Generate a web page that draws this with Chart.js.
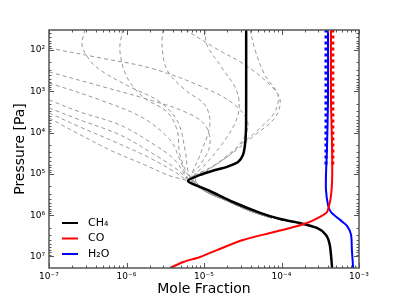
<!DOCTYPE html>
<html>
<head>
<meta charset="utf-8">
<script src="https://cdn.jsdelivr.net/npm/chart.js@4.4.1/dist/chart.umd.min.js"></script>
<style>
  html, body { margin: 0; padding: 0; background: #fff; }
  #wrap { width: 399px; height: 299px; }
</style>
</head>
<body>
<div id="wrap"><canvas id="chart" width="399" height="299"></canvas></div>
<script>
// profiles, pairs of [mole fraction, pressure in Pa]
const ch4 = [[3.5e-5, 32], [3.5e-5, 1600], [3.48e-5, 8600], [3.38e-5, 2.0e4], [3.18e-5, 3.5e4],
  [2.75e-5, 5.2e4], [1.98e-5, 6.8e4], [1.27e-5, 8.5e4], [8.9e-6, 1.06e5], [6.2e-6, 1.49e5],
  [8.9e-6, 2.07e5], [1.19e-5, 2.6e5], [2.37e-5, 4.8e5], [5.3e-5, 8.8e5], [9.6e-5, 1.24e6],
  [1.73e-4, 1.55e6], [2.87e-4, 2.04e6], [3.75e-4, 3.0e6], [4.2e-4, 5.3e6], [4.5e-4, 1.9e7]];
const co = [[4.35e-4, 32], [4.35e-4, 1600], [4.5e-4, 2.6e4], [4.5e-4, 1.4e5], [4.35e-4, 3.4e5],
  [4.1e-4, 6.0e5], [3.86e-4, 8.4e5], [3.14e-4, 1.1e6], [2.13e-4, 1.55e6], [1.29e-4, 2.04e6],
  [7.1e-5, 2.7e6], [3.18e-5, 4.0e6], [1.47e-5, 7.0e6], [8.9e-6, 1.03e7], [5.4e-6, 1.36e7], [3.64e-6, 1.9e7]];
const h2o = [[3.98e-4, 32], [3.98e-4, 1600], [3.86e-4, 2.6e4], [3.75e-4, 1.06e5], [3.75e-4, 2.45e5],
  [3.98e-4, 5.7e5], [4.35e-4, 8.4e5], [5.7e-4, 1.3e6], [7.0e-4, 1.82e6], [7.9e-4, 3.0e6],
  [8.1e-4, 7.0e6], [8.4e-4, 1.9e7]];
const h2oDashed = [[3.75e-4, 32], [3.75e-4, 6.1e4]];
const coDashed = [[4.6e-4, 32], [4.6e-4, 6.1e4]];

// grey dashed CH4 profiles, all joining the same lower branch
const greyTail = [[1.03e-5, 2.59e5], [1.87e-5, 4.28e5], [3.93e-5, 7.9e5], [7.5e-5, 1.17e6]];
const greyRuns = [
  [[1e-7, 90], [4.55e-7, 156], [2.0e-6, 273], [8.9e-6, 745], [2.51e-5, 2150], [3.7e-5, 6550], [2.51e-5, 2.64e4], [1.19e-5, 7.2e4], [7.0e-6, 1.26e5]],
  [[1e-7, 341], [4.55e-7, 745], [2.0e-6, 1625], [5.7e-6, 3170], [1.03e-5, 6550], [1.19e-5, 2.0e4], [8.9e-6, 6.1e4], [6.6e-6, 1.26e5]],
  [[1e-7, 630], [4.55e-7, 1625], [1.63e-6, 4430], [3.64e-6, 1.51e4], [4.9e-6, 4.6e4], [6.2e-6, 1.26e5]],
  [[1e-7, 1625], [2.5e-7, 3170], [8.2e-7, 6550], [2.0e-6, 1.69e4], [4.2e-6, 4.6e4], [6.2e-6, 1.33e5]],
  [[1e-7, 2540], [2.5e-7, 4950], [8.2e-7, 1.14e4], [2.33e-6, 3.48e4], [4.6e-6, 8.05e4], [6.2e-6, 1.41e5]],
  [[1e-7, 3350], [2.5e-7, 7310], [7.1e-7, 1.69e4], [2.0e-6, 4.12e4], [4.2e-6, 9.0e4], [6.2e-6, 1.49e5]],
  [[1e-7, 4430], [2.16e-7, 9670], [6.1e-7, 2.64e4], [1.73e-6, 6.1e4], [3.64e-6, 1.12e5], [6.2e-6, 1.49e5]],
  [[2.92e-7, 32], [2.67e-7, 76], [3.19e-7, 156], [4.55e-7, 305], [1.11e-6, 787], [2.7e-6, 1816], [4.6e-6, 5540], [5.7e-6, 2.64e4], [6.6e-6, 1.19e5]],
  [[9.0e-7, 32], [8.2e-7, 100], [1.01e-6, 451], [1.63e-6, 1375], [3.33e-6, 3170], [4.49e-6, 8650], [4.9e-6, 3.48e4], [6.6e-6, 1.26e5]],
  [[2.96e-6, 32], [2.87e-6, 76], [3.33e-6, 305], [5.7e-6, 930], [1.03e-5, 2150], [1.19e-5, 6550], [8.9e-6, 3.48e4], [7.0e-6, 1.26e5]],
  [[1.03e-5, 32], [1.09e-5, 76], [1.71e-5, 273], [2.67e-5, 1040], [2.75e-5, 3750], [1.87e-5, 1.51e4], [1.03e-5, 6.1e4], [7.2e-6, 1.26e5]],
  [[5.7e-6, 32], [1.39e-5, 90], [3.38e-5, 231], [7.1e-5, 703], [9.6e-5, 1625], [8.2e-5, 4430], [4.55e-5, 1.14e4], [2.16e-5, 3.48e4], [1.03e-5, 9.0e4], [7.7e-6, 1.26e5]],
  [[3.93e-5, 32], [4.55e-5, 100], [6.1e-5, 403], [9.0e-5, 1230], [8.2e-5, 3170], [5.3e-5, 7740], [2.92e-5, 2.0e4], [1.39e-5, 6.1e4], [7.7e-6, 1.26e5]]
];

const seriesNames = ['CH₄', 'CO', 'H₂O'];
const seriesColors = ['#000000', '#ff0000', '#0000ff'];
const xTickLabels = { '-7': '10⁻⁷', '-6': '10⁻⁶', '-5': '10⁻⁵', '-4': '10⁻⁴', '-3': '10⁻³' };
const yTickLabels = { '2': '10²', '3': '10³', '4': '10⁴', '5': '10⁵', '6': '10⁶', '7': '10⁷' };

Chart.defaults.font.family = '"DejaVu Sans", sans-serif';
Chart.defaults.color = '#000';

const pts = (arr) => arr.map(p => ({ x: p[0], y: p[1] }));

const datasets = [
  { data: pts(co), borderColor: seriesColors[1], borderWidth: 2, order: 1, tension: 0.25 },
  { data: pts(h2o), borderColor: seriesColors[2], borderWidth: 2, order: 2, tension: 0.25 },
  { data: pts(ch4), borderColor: seriesColors[0], borderWidth: 2.5, order: 3, tension: 0.25 },
  { data: pts(coDashed), borderColor: '#ff0000', borderWidth: 3, borderDash: [3, 3], order: 4 },
  { data: pts(h2oDashed), borderColor: '#0000ff', borderWidth: 3, borderDash: [3, 3], order: 5 }
];
greyRuns.forEach((run, i) => {
  datasets.push({
    data: pts(run.concat(greyTail)),
    borderColor: '#999999', borderWidth: 1, borderDash: [4, 3],
    order: 10 + i, tension: 0.35
  });
});
datasets.forEach(d => { d.showLine = true; d.pointRadius = 0; d.fill = false; });

function decadeLabel(map, v) {
  const l = Math.log10(v);
  const e = Math.round(l);
  return Math.abs(l - e) < 1e-6 ? (map[String(e)] || '') : '';
}

// inward tick marks, frame and legend, matplotlib style
const frame = {
  id: 'frame',
  afterDatasetsDraw(chart) {
    const { ctx, chartArea: a, scales: { x, y } } = chart;
    ctx.save();
    ctx.strokeStyle = '#555';
    ctx.lineWidth = 1;
    const marks = (scale, cb) => {
      const lo = Math.floor(Math.log10(scale.min)), hi = Math.ceil(Math.log10(scale.max));
      for (let d = lo; d <= hi; d++) {
        for (let m = 1; m < 10; m++) {
          const v = m * Math.pow(10, d);
          if (v < scale.min || v > scale.max) continue;
          cb(Math.round(scale.getPixelForValue(v)) + 0.5, m === 1 ? 5 : 2.5);
        }
      }
    };
    ctx.beginPath();
    marks(x, (p, len) => {
      ctx.moveTo(p, a.bottom); ctx.lineTo(p, a.bottom - len);
      ctx.moveTo(p, a.top); ctx.lineTo(p, a.top + len);
    });
    marks(y, (p, len) => {
      ctx.moveTo(a.left, p); ctx.lineTo(a.left + len, p);
      ctx.moveTo(a.right, p); ctx.lineTo(a.right - len, p);
    });
    ctx.stroke();
    ctx.lineWidth = 1.5;
    ctx.strokeRect(a.left, a.top, a.right - a.left, a.bottom - a.top);

    ctx.font = '11px "DejaVu Sans", sans-serif';
    ctx.textBaseline = 'middle';
    ctx.fillStyle = '#000';
    seriesNames.forEach((name, i) => {
      const ly = a.top + 193 + i * 15.5;
      ctx.strokeStyle = seriesColors[i];
      ctx.lineWidth = 2;
      ctx.beginPath();
      ctx.moveTo(a.left + 13, ly); ctx.lineTo(a.left + 29, ly);
      ctx.stroke();
      ctx.fillText(name, a.left + 39, ly);
    });
    ctx.restore();
  }
};

new Chart(document.getElementById('chart'), {
  type: 'scatter',
  data: { datasets },
  options: {
    responsive: false,
    animation: false,
    layout: { padding: { top: 30, right: 40, left: 0, bottom: 0 } },
    plugins: { legend: { display: false }, tooltip: { enabled: false } },
    scales: {
      x: {
        type: 'logarithmic', min: 1e-7, max: 1e-3,
        grid: { display: false, drawTicks: false },
        border: { display: false },
        ticks: { autoSkip: false, maxRotation: 0, padding: 3, font: { size: 9 },
          callback: (v) => decadeLabel(xTickLabels, v) },
        title: { display: true, text: 'Mole Fraction', font: { size: 14 }, padding: { top: 0, bottom: 1 } },
        afterFit: (s) => { s.height = 31; s.paddingLeft = 0; s.paddingRight = 0; }
      },
      y: {
        type: 'logarithmic', reverse: true, min: 33, max: 1.9e7,
        grid: { display: false, drawTicks: false },
        border: { display: false },
        ticks: { autoSkip: false, padding: 4, font: { size: 9 },
          callback: (v) => decadeLabel(yTickLabels, v) },
        title: { display: true, text: 'Pressure [Pa]', font: { size: 14 }, padding: { top: 12, bottom: 0 } },
        afterFit: (s) => { s.width = 49; s.paddingTop = 0; s.paddingBottom = 0; }
      }
    }
  },
  plugins: [frame]
});
</script>
</body>
</html>
